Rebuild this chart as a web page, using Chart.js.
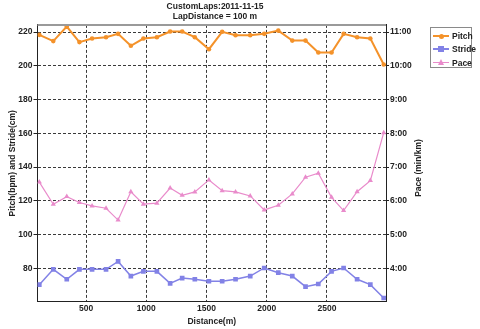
<!DOCTYPE html>
<html>
<head>
<meta charset="utf-8">
<script src="https://cdn.jsdelivr.net/npm/chart.js@4/dist/chart.umd.min.js"></script>
<style>
  html, body { margin: 0; padding: 0; background: #fff; }
  #wrap { position: relative; width: 480px; height: 329px; }
  #c { position: absolute; left: 0; top: 0; }
  .lg { position: absolute; left: 430px; top: 27px; width: 42px; height: 41px; border: 1px solid #8a8a8a; box-sizing: border-box; background: #fff;
        font: bold 8.5px "Liberation Sans", Arial, sans-serif; color: #222; }
  .it { position: absolute; left: 2px; height: 10px; width: 40px; }
  .ln { position: absolute; left: 0; top: 4px; width: 16px; height: 1.5px; }
  .mk { position: absolute; }
  .tx { position: absolute; left: 19px; top: 0; line-height: 10px; }
  #rt { position: absolute; left: 418px; top: 168px; transform: translate(-50%, -50%) rotate(-90deg); white-space: nowrap;
        font: bold 8.5px "Liberation Sans", Arial, sans-serif; color: #222; }
</style>
</head>
<body>
<div id="wrap">
  <canvas id="c" width="480" height="329"></canvas>
  <div id="rt">Pace (min/km)</div>
  <div class="lg" id="legend"></div>
</div>
<script>
// Lap cumulative distances (m)
const distances = [112, 228, 340, 445, 550, 666, 766, 872, 976, 1088, 1198, 1298, 1403, 1520, 1630, 1741, 1863, 1979, 2096, 2212, 2322, 2428, 2538, 2638, 2750, 2860, 2971];
// Pitch (bpm)
const pitch = [218.4, 214.7, 223.3, 214.1, 216.2, 217, 219, 211.9, 216.2, 217, 220.4, 220.4, 217, 209.9, 220.2, 218.2, 218.2, 219, 220.9, 215, 215, 207.9, 207.9, 219, 217, 216.2, 200.8];
// Stride (cm)
const stride = [70.3, 79.4, 73.5, 79.4, 79.4, 79.4, 84.1, 75.4, 78.2, 78.2, 71.1, 74.2, 73.5, 72.3, 72.3, 73.5, 75.4, 80.2, 77.4, 75.4, 69.1, 70.7, 78.2, 80.2, 73.5, 70.3, 62.4];
// Pace (minutes per km)
const pace = [6.555, 5.9, 6.125, 5.95, 5.85, 5.78, 5.43, 6.27, 5.9, 5.93, 6.38, 6.165, 6.265, 6.62, 6.3, 6.265, 6.145, 5.73, 5.87, 6.205, 6.7, 6.82, 6.105, 5.71, 6.27, 6.6, 8.02];
// Tick labels
const xTicks = [500, 1000, 1500, 2000, 2500];
const leftTicks = [80, 100, 120, 140, 160, 180, 200, 220];
const rightTicks = [4, 5, 6, 7, 8, 9, 10, 11];
const seriesNames = ['Pitch', 'Stride', 'Pace'];
const colors = ['#F4922A', '#8282E6', '#E98BCB'];

const FONT = { family: '"Liberation Sans", Arial, sans-serif', size: 8.5, weight: 'bold' };
const GRID = '#3a3a3a';

function fmtPace(v) {
  const m = Math.floor(v + 1e-9);
  const s = Math.round((v - m) * 60);
  return m + ':' + String(s).padStart(2, '0');
}

const toXY = (arr) => arr.map((v, i) => ({ x: distances[i], y: v }));

const topBorder = {
  id: 'topBorder',
  afterDraw(chart) {
    const { ctx, chartArea: a } = chart;
    ctx.save();
    ctx.strokeStyle = '#9a9a9a';
    ctx.lineWidth = 2;
    ctx.beginPath();
    ctx.moveTo(a.left, a.top);
    ctx.lineTo(a.right, a.top);
    ctx.stroke();
    ctx.restore();
  }
};

new Chart(document.getElementById('c'), {
  type: 'line',
  data: {
    datasets: [
      { label: seriesNames[0], data: toXY(pitch), yAxisID: 'y', borderColor: colors[0], backgroundColor: colors[0],
        borderWidth: 2, pointStyle: 'circle', pointRadius: 2.3, pointBorderWidth: 0, tension: 0 },
      { label: seriesNames[1], data: toXY(stride), yAxisID: 'y', borderColor: colors[1], backgroundColor: colors[1],
        borderWidth: 1.5, pointStyle: 'rect', pointRadius: 3.3, pointBorderWidth: 0, tension: 0 },
      { label: seriesNames[2], data: toXY(pace), yAxisID: 'y1', borderColor: colors[2], backgroundColor: colors[2],
        borderWidth: 1.2, pointStyle: 'triangle', pointRadius: 3, pointBorderWidth: 0, tension: 0 }
    ]
  },
  options: {
    responsive: false,
    animation: false,
    devicePixelRatio: 1,
    layout: { padding: { left: 0, right: 50, top: 0, bottom: 0 } },
    plugins: {
      legend: { display: false },
      tooltip: { enabled: false },
      title: {
        display: true,
        text: ['CustomLaps:2011-11-15', 'LapDistance = 100 m'],
        font: { family: FONT.family, size: 8.5, weight: 'bold', lineHeight: 1.2 },
        color: '#222',
        padding: { top: 1.5, bottom: 3 }
      }
    },
    scales: {
      x: {
        type: 'linear',
        min: 97, max: 2990,
        afterBuildTicks: (s) => { s.ticks = xTicks.map(v => ({ value: v })); },
        afterFit: (s) => { s.height = 27.3; },
        ticks: { font: FONT, color: '#222', padding: 2, maxRotation: 0, callback: (v) => String(v) },
        grid: { color: GRID, lineWidth: 1, drawTicks: false, tickLength: 0 },
        border: { display: true, color: '#222', width: 1, dash: [3, 2] },
        title: { display: true, text: 'Distance(m)', font: FONT, color: '#222', padding: { top: 2, bottom: 2 } }
      },
      y: {
        position: 'left',
        min: 60.2, max: 224.3,
        afterBuildTicks: (s) => { s.ticks = leftTicks.map(v => ({ value: v })); },
        afterFit: (s) => { s.width = 37.5; },
        ticks: { font: FONT, color: '#222', padding: 1 },
        grid: { color: GRID, lineWidth: 1, drawTicks: true, tickLength: 4, tickColor: '#222', tickBorderDash: [] },
        border: { display: true, color: '#222', width: 1, dash: [3, 2] },
        title: { display: true, text: 'Pitch(bpm) and Stride(cm)', font: FONT, color: '#222', padding: { top: 7.4, bottom: 0 } }
      },
      y1: {
        position: 'right',
        min: 3.01, max: 11.215,
        afterBuildTicks: (s) => { s.ticks = rightTicks.map(v => ({ value: v })); },
        afterFit: (s) => { s.width = 44; },
        ticks: { font: FONT, color: '#222', padding: 1, callback: (v) => fmtPace(v) },
        grid: { drawOnChartArea: false, drawTicks: true, tickLength: 3, tickColor: '#222', color: '#222' },
        border: { display: true, color: '#222', width: 1 }
      }
    }
  },
  plugins: [topBorder]
});

// HTML legend (line + marker samples)
const lg = document.getElementById('legend');
const markers = [
  (c) => `<div class="mk" style="left:6px;top:2.5px;width:5px;height:5px;border-radius:50%;background:${c}"></div>`,
  (c) => `<div class="mk" style="left:5px;top:1.5px;width:6px;height:6px;background:${c}"></div>`,
  (c) => `<div class="mk" style="left:5px;top:1px;width:0;height:0;border-left:3px solid transparent;border-right:3px solid transparent;border-bottom:6px solid ${c}"></div>`
];
seriesNames.forEach((n, i) => {
  const d = document.createElement('div');
  d.className = 'it';
  d.style.top = (3 + i * 13.3) + 'px';
  d.innerHTML = `<div class="ln" style="background:${colors[i]}"></div>${markers[i](colors[i])}<div class="tx">${n}</div>`;
  lg.appendChild(d);
});
</script>
</body>
</html>
